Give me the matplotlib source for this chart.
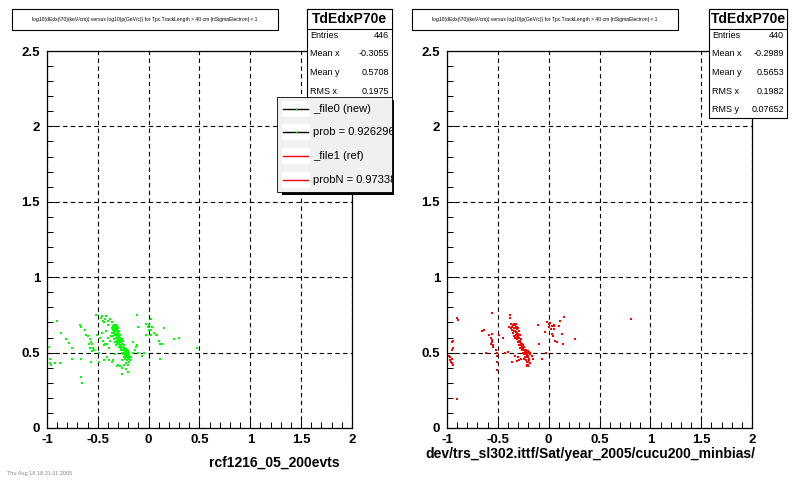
import numpy as np
import matplotlib
matplotlib.use("Agg")
import matplotlib.pyplot as plt
from matplotlib.patches import Rectangle
from matplotlib.lines import Line2D
from matplotlib.ticker import MultipleLocator, FuncFormatter
from matplotlib.transforms import Bbox, TransformedBbox

plt.rcParams['font.family'] = ['Liberation Sans', 'DejaVu Sans']

# ---------------- data ----------------
title_text = ("log10(dEdx(I70)(keV/cm)) versus log10(p(GeV/c)) for Tpc.TrackLength > 40 cm "
              "|nSigmaElectron| < 1")
hist_name = "TdEdxP70e"
stat_labels = ["Entries", "Mean x", "Mean y", "RMS x", "RMS y"]
stats_new = ["446", "-0.3055", "0.5708", "0.1975"]
stats_ref = ["440", "-0.2989", "0.5653", "0.1982", "0.07652"]
legend_labels = ["_file0 (new)", "prob = 0.926296", "_file1 (ref)", "probN = 0.97338"]
xlabel_new = "rcf1216_05_200evts"
xlabel_ref = "dev/trs_sl302.ittf/Sat/year_2005/cucu200_minbias/"
date_text = "Thu Aug 18 18:31:11 2005"

x_ticks = [-1, -0.5, 0, 0.5, 1, 1.5, 2]
y_ticks = [0, 0.5, 1, 1.5, 2, 2.5]

new_points = [
    # dense band
    (-0.36, 0.66), (-0.35, 0.67), (-0.34, 0.68), (-0.33, 0.67), (-0.32, 0.68), (-0.31, 0.67),
    (-0.35, 0.65), (-0.33, 0.65), (-0.31, 0.65), (-0.30, 0.66), (-0.36, 0.63), (-0.34, 0.63),
    (-0.32, 0.64), (-0.30, 0.63), (-0.29, 0.64), (-0.37, 0.61), (-0.35, 0.61), (-0.33, 0.62),
    (-0.31, 0.61), (-0.28, 0.62), (-0.34, 0.59), (-0.32, 0.60), (-0.30, 0.59), (-0.28, 0.60),
    (-0.26, 0.59), (-0.33, 0.57), (-0.31, 0.58), (-0.29, 0.57), (-0.27, 0.57), (-0.25, 0.58),
    (-0.32, 0.55), (-0.30, 0.56), (-0.28, 0.55), (-0.26, 0.56), (-0.24, 0.55), (-0.29, 0.54),
    (-0.27, 0.53), (-0.25, 0.54), (-0.23, 0.53), (-0.27, 0.52), (-0.25, 0.52), (-0.23, 0.51),
    (-0.21, 0.52), (-0.26, 0.50), (-0.24, 0.50), (-0.22, 0.50), (-0.20, 0.51), (-0.19, 0.50),
    (-0.25, 0.49), (-0.23, 0.49), (-0.21, 0.49), (-0.19, 0.48), (-0.24, 0.47), (-0.22, 0.47),
    (-0.20, 0.47), (-0.23, 0.46), (-0.21, 0.45), (-0.19, 0.44), (-0.22, 0.43), (-0.20, 0.42),
    (-0.18, 0.45), (-0.17, 0.47),
    (-0.355, 0.675), (-0.335, 0.675), (-0.315, 0.675), (-0.345, 0.655), (-0.325, 0.655),
    (-0.305, 0.645), (-0.345, 0.635), (-0.325, 0.625), (-0.305, 0.62), (-0.295, 0.605),
    (-0.325, 0.595), (-0.305, 0.585), (-0.285, 0.585), (-0.265, 0.575), (-0.315, 0.565),
    (-0.295, 0.56), (-0.275, 0.545), (-0.255, 0.535), (-0.245, 0.525), (-0.235, 0.515),
    (-0.225, 0.505), (-0.215, 0.495), (-0.205, 0.49), (-0.235, 0.485), (-0.215, 0.475),
    (-0.195, 0.465), (-0.205, 0.455), (-0.225, 0.525), (-0.215, 0.51),
    # around the band
    (-0.42, 0.64), (-0.40, 0.60), (-0.41, 0.56), (-0.39, 0.53), (-0.38, 0.58), (-0.40, 0.68),
    (-0.43, 0.72), (-0.46, 0.74), (-0.44, 0.70), (-0.38, 0.72), (-0.36, 0.70), (-0.41, 0.47),
    (-0.36, 0.44), (-0.33, 0.49), (-0.30, 0.42), (-0.26, 0.45), (-0.24, 0.42), (-0.22, 0.39),
    (-0.20, 0.37), (-0.15, 0.50), (-0.13, 0.52), (-0.12, 0.54), (-0.10, 0.50), (-0.07, 0.48),
    (-0.15, 0.57),
    # left side
    (-0.90, 0.71), (-0.98, 0.54), (-0.97, 0.46), (-0.97, 0.43), (-0.96, 0.42), (-0.92, 0.43),
    (-0.87, 0.43), (-0.86, 0.63), (-0.81, 0.59), (-0.78, 0.565), (-0.75, 0.53), (-0.75, 0.46),
    (-0.68, 0.685), (-0.665, 0.667), (-0.67, 0.34), (-0.655, 0.30), (-0.67, 0.46), (-0.63, 0.65),
    (-0.62, 0.62), (-0.60, 0.61), (-0.58, 0.59), (-0.57, 0.57), (-0.56, 0.56), (-0.55, 0.53),
    (-0.54, 0.52), (-0.59, 0.56), (-0.58, 0.53), (-0.56, 0.51), (-0.57, 0.44), (-0.52, 0.75),
    (-0.51, 0.62), (-0.49, 0.50), (-0.49, 0.44), (-0.47, 0.73), (-0.45, 0.71), (-0.42, 0.74),
    (-0.40, 0.71), (-0.48, 0.60), (-0.46, 0.63), (-0.45, 0.58), (-0.44, 0.55), (-0.43, 0.56),
    (-0.44, 0.45), (-0.39, 0.45), (-0.35, 0.45), (-0.31, 0.41), (-0.28, 0.41), (-0.26, 0.40),
    (-0.26, 0.36),
    # right of zero
    (-0.03, 0.69), (-0.01, 0.67), (0.00, 0.68), (0.00, 0.65), (0.02, 0.65), (0.02, 0.62),
    (0.02, 0.72), (0.03, 0.67), (0.05, 0.63), (0.07, 0.62), (0.08, 0.62), (0.10, 0.58),
    (0.11, 0.56), (0.115, 0.455), (0.13, 0.56), (0.15, 0.66), (-0.03, 0.62), (0.25, 0.59),
    (0.30, 0.595), (0.48, 0.53), (-0.11, 0.75), (-0.10, 0.67), (-0.115, 0.55), (-0.05, 0.50),
]

ref_points = [
    # dense band
    (-0.36, 0.67), (-0.35, 0.68), (-0.34, 0.69), (-0.33, 0.68), (-0.32, 0.69), (-0.31, 0.67),
    (-0.36, 0.65), (-0.34, 0.66), (-0.32, 0.66), (-0.30, 0.66), (-0.35, 0.63), (-0.33, 0.64),
    (-0.31, 0.63), (-0.29, 0.64), (-0.34, 0.61), (-0.32, 0.62), (-0.30, 0.61), (-0.28, 0.62),
    (-0.33, 0.60), (-0.29, 0.60), (-0.31, 0.59), (-0.29, 0.58), (-0.27, 0.59), (-0.30, 0.57),
    (-0.28, 0.57), (-0.26, 0.56), (-0.29, 0.55), (-0.27, 0.55), (-0.25, 0.55), (-0.28, 0.53),
    (-0.26, 0.53), (-0.24, 0.54), (-0.26, 0.52), (-0.24, 0.52), (-0.22, 0.52), (-0.20, 0.51),
    (-0.25, 0.50), (-0.23, 0.50), (-0.21, 0.50), (-0.19, 0.50), (-0.24, 0.49), (-0.22, 0.49),
    (-0.20, 0.48), (-0.18, 0.49), (-0.23, 0.47), (-0.21, 0.47), (-0.19, 0.46), (-0.22, 0.45),
    (-0.20, 0.44), (-0.21, 0.42), (-0.20, 0.41), (-0.18, 0.43), (-0.24, 0.46), (-0.27, 0.46),
    (-0.30, 0.47), (-0.33, 0.48),
    (-0.355, 0.685), (-0.335, 0.685), (-0.345, 0.665), (-0.325, 0.67), (-0.315, 0.655),
    (-0.345, 0.645), (-0.325, 0.635), (-0.305, 0.625), (-0.315, 0.605), (-0.295, 0.595),
    (-0.285, 0.58), (-0.275, 0.565), (-0.265, 0.545), (-0.255, 0.53), (-0.245, 0.515),
    (-0.235, 0.505), (-0.225, 0.495), (-0.215, 0.485), (-0.205, 0.495), (-0.195, 0.505),
    (-0.185, 0.495), (-0.225, 0.515), (-0.215, 0.505), (-0.205, 0.47), (-0.195, 0.45),
    # left side
    (-0.895, 0.715), (-0.90, 0.73), (-0.98, 0.48), (-0.97, 0.47), (-0.97, 0.45), (-0.96, 0.44),
    (-0.955, 0.43), (-0.95, 0.46), (-0.94, 0.42), (-0.95, 0.52), (-0.95, 0.57), (-0.94, 0.58),
    (-0.94, 0.53), (-0.90, 0.19),
    (-0.66, 0.645), (-0.64, 0.65), (-0.62, 0.50), (-0.59, 0.62), (-0.57, 0.60), (-0.56, 0.585),
    (-0.555, 0.57), (-0.55, 0.55), (-0.545, 0.535), (-0.57, 0.56), (-0.555, 0.625), (-0.56, 0.76),
    (-0.52, 0.52), (-0.51, 0.50), (-0.51, 0.48), (-0.51, 0.44), (-0.51, 0.385), (-0.49, 0.62),
    (-0.45, 0.60), (-0.43, 0.50), (-0.40, 0.505), (-0.38, 0.73), (-0.38, 0.75), (-0.37, 0.69),
    (-0.39, 0.67), (-0.37, 0.66), (-0.36, 0.44), (-0.31, 0.445), (-0.29, 0.45),
    (-0.21, 0.44), (-0.205, 0.42), (-0.21, 0.41), (-0.16, 0.48), (-0.155, 0.455),
    (-0.105, 0.68), (-0.10, 0.56), (-0.07, 0.455), (-0.03, 0.50),
    # right of zero
    (-0.033, 0.635), (-0.016, 0.70), (0.00, 0.69), (0.007, 0.667), (0.016, 0.693),
    (0.023, 0.657), (0.033, 0.678), (0.049, 0.678), (0.056, 0.685), (0.033, 0.624),
    (0.039, 0.613), (0.049, 0.657), (0.066, 0.58), (0.082, 0.57), (0.098, 0.678),
    (0.115, 0.71), (0.131, 0.624), (0.138, 0.559), (0.148, 0.737), (0.262, 0.587),
    (0.81, 0.72),
]

new_x = np.array([p[0] for p in new_points])
new_y = np.array([p[1] for p in new_points])
ref_x = np.array([p[0] for p in ref_points])
ref_y = np.array([p[1] for p in ref_points])

# ---------------- figure ----------------
W, H = 800, 480
fig = plt.figure(figsize=(8, 4.8), dpi=100)
fig.patch.set_facecolor('white')


def fx(px):
    return px / W


def fy(py):
    return 1 - py / H


def rect(x0, y0, x1, y1, fc='white', ec='black', lw=0.8, z=5):
    r = Rectangle((fx(x0), fy(y1)), (x1 - x0) / W, (y1 - y0) / H,
                  transform=fig.transFigure, facecolor=fc, edgecolor=ec, linewidth=lw, zorder=z)
    fig.add_artist(r)
    return r


def fmt(v, pos):
    return '%g' % v


def make_axes(left_px, xs, ys, color, xlabel, xlabel_x, xlabel_ha, xlabel_y):
    ax = fig.add_axes([fx(left_px), fy(428), 305 / W, 377 / H])
    ax.set_xlim(-1, 2)
    ax.set_ylim(0, 2.5)
    ax.set_xticks(x_ticks)
    ax.set_yticks(y_ticks)
    ax.xaxis.set_minor_locator(MultipleLocator(0.1))
    ax.yaxis.set_minor_locator(MultipleLocator(0.1))
    ax.xaxis.set_major_formatter(FuncFormatter(fmt))
    ax.yaxis.set_major_formatter(FuncFormatter(fmt))
    ax.tick_params(which='both', direction='in', width=0.7, top=False, right=False,
                   labelsize=9.5)
    ax.tick_params(which='major', length=6)
    ax.tick_params(which='minor', length=4)
    ax.tick_params(axis='x', pad=4)
    ax.tick_params(axis='y', pad=5)
    for lab in ax.get_xticklabels() + ax.get_yticklabels():
        lab.set_fontweight('bold')
    for s in ax.spines.values():
        s.set_linewidth(0.9)
        s.set_color('black')
    ax.grid(True, which='major', color='black', linestyle=(0, (4, 3)), linewidth=0.8)
    ax.set_axisbelow(True)
    ax.plot(xs, ys, linestyle='none', marker='s', markersize=1.9, markeredgewidth=0,
            color=color, zorder=3)
    fig.text(fx(xlabel_x), fy(xlabel_y), xlabel, ha=xlabel_ha, va='center',
             fontsize=10, fontweight='bold')
    return ax


ax1 = make_axes(47, new_x, new_y, '#00ff00', xlabel_new, 340, 'right', 463)
ax2 = make_axes(447, ref_x, ref_y, '#ff0000', xlabel_ref, 425, 'left', 454)

# title boxes
for x0 in (12, 412):
    rect(x0, 9, x0 + 266, 30, lw=0.8, z=5)
    fig.text(fx(x0 + 133), fy(19.5), title_text, ha='center', va='center', fontsize=3.6,
             zorder=6)


# stats boxes
def stats_box(x0, x1, values, bottom):
    rect(x0, 9, x1, bottom, lw=0.8, z=5)
    rect(x0, 9, x1, 29, lw=0.8, z=5)
    fig.text(fx((x0 + x1) / 2), fy(19), hist_name, ha='center', va='center', fontsize=10,
             fontweight='bold', zorder=6)
    row_y = [35.5, 54, 72.5, 91, 109]
    for lab, val, yy in zip(stat_labels, values, row_y):
        fig.text(fx(x0 + 3), fy(yy), lab, ha='left', va='center', fontsize=6.5, zorder=6)
        fig.text(fx(x1 - 3), fy(yy), val, ha='right', va='center', fontsize=6.5, zorder=6)


stats_box(307, 392, stats_new, 118)
stats_box(709, 787, stats_ref, 118)

# legend (left pad)
lx0, ly0, lx1, ly1 = 277, 97, 392, 192
rect(lx0 + 5, ly0 + 3, lx1 + 2, ly1 + 3, fc='black', ec='black', lw=0, z=10)
rect(lx0, ly0, lx1, ly1, fc='#f0f0f0', ec='black', lw=0.6, z=11)
clip = TransformedBbox(Bbox.from_extents(fx(lx0), fy(ly1), fx(lx1), fy(ly0)), fig.transFigure)
leg_colors = ['black', 'black', '#ff0000', '#ff0000']
row_centers = [109, 132, 156, 180]
for lab, col, yy in zip(legend_labels, leg_colors, row_centers):
    rect(282, yy - 8, 310, yy + 8, fc='white', ec='none', lw=0, z=12)
    fig.add_artist(Line2D([fx(283), fx(308)], [fy(yy), fy(yy)], transform=fig.transFigure,
                          color=col, linewidth=1.0, zorder=13))
    if col == 'black':
        fig.add_artist(Line2D([fx(296)], [fy(yy)], transform=fig.transFigure, color='#00ff00',
                              marker='s', markersize=1.2, markeredgewidth=0, linestyle='none',
                              zorder=14))
    t = fig.text(fx(313), fy(yy), lab, ha='left', va='center', fontsize=8, zorder=13)
    t.set_clip_box(clip)
    t.set_clip_on(True)

# date stamp
fig.text(fx(7), fy(473), date_text, ha='left', va='center', fontsize=4, color='#888888')

fig.savefig('out.png', dpi=100)
